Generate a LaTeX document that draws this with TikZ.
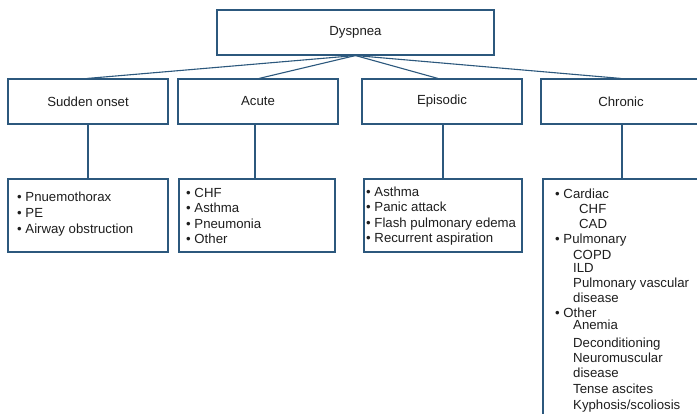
\documentclass[tikz,border=0pt]{standalone}
\usepackage{fontspec}
\setmainfont{Liberation Sans}
\definecolor{lineblue}{RGB}{44,88,125}
\definecolor{ink}{RGB}{30,30,30}
\begin{document}
\begin{tikzpicture}[x=1pt,y=-1pt,
  box/.style={draw=lineblue, line width=1.1pt, fill=white, inner sep=0pt,
    font=\fontsize{13.2}{15.6}\selectfont, text=ink},
  txt/.style={font=\fontsize{13.2}{15.6}\selectfont, text=ink, inner sep=0pt, align=left},
  link/.style={draw=lineblue, line width=1.1pt}]
\clip (0,0) rectangle (697,414);
\fill[white] (0,0) rectangle (697,414);

% root and the four categories
\node[box, minimum width=277pt, minimum height=45pt] (dys) at (355.5,32.5) {Dyspnea};
\node[box, minimum width=160pt, minimum height=45pt] (sudden) at (88,101.5) {Sudden onset};
\node[box, minimum width=160pt, minimum height=45pt] (acute) at (258,101.5) {Acute};
\node[box, minimum width=160pt, minimum height=45pt] (episodic) at (442,101.5) {Episodic};
\node[box, minimum width=160pt, minimum height=45pt] (chronic) at (621,101.5) {Chronic};

% list boxes
\node[box, minimum width=160pt, minimum height=73pt] (slist) at (88,215.5) {};
\node[box, minimum width=156pt, minimum height=73pt] (alist) at (257,215.5) {};
\node[box, minimum width=158pt, minimum height=73pt] (elist) at (443,215.5) {};
\node[box, minimum width=160pt, minimum height=251pt] (clist) at (623,304.5) {};

% branches from the root
\draw[link] (dys.south) -- ([xshift=-1pt]sudden.north);
\draw[link] (dys.south) -- ([xshift=1pt]acute.north);
\draw[link] (dys.south) -- ([xshift=-4pt]episodic.north);
\draw[link] (dys.south) -- (chronic.north);

% drops to the lists
\draw[link] (sudden.south) -- (sudden.south |- slist.north);
\draw[link] ([xshift=-3pt]acute.south) -- ([xshift=-3pt]acute.south |- alist.north);
\draw[link] ([xshift=1pt]episodic.south) -- ([xshift=1pt]episodic.south |- elist.north);
\draw[link] ([xshift=1pt]chronic.south) -- ([xshift=1pt]chronic.south |- clist.north);

% list contents
\node[txt, anchor=west] (stext) at (17,214) {• Pnuemothorax\\• PE\\• Airway obstruction};
\node[txt, anchor=west] (atext) at (186,216) {• CHF\\• Asthma\\• Pneumonia\\• Other};
\node[txt, anchor=west] (etext) at (366,216) {• Asthma\\• Panic attack\\• Flash pulmonary edema\\• Recurrent aspiration};
\node[txt, anchor=north west, font=\fontsize{13.2}{15.2}\selectfont] (ctext) at (555,188.5) {%
• Cardiac\\
\hspace*{24pt}CHF\\
\hspace*{24pt}CAD\\
• Pulmonary\\
\hspace*{18pt}COPD\\[-2pt]
\hspace*{18pt}ILD\\
\hspace*{18pt}Pulmonary vascular\\
\hspace*{18pt}disease\\
• Other\\[-4pt]
\hspace*{18pt}Anemia\\[3pt]
\hspace*{18pt}Deconditioning\\
\hspace*{18pt}Neuromuscular\\
\hspace*{18pt}disease\\[1pt]
\hspace*{18pt}Tense ascites\\
\hspace*{18pt}Kyphosis/scoliosis};
\end{tikzpicture}
\end{document}
